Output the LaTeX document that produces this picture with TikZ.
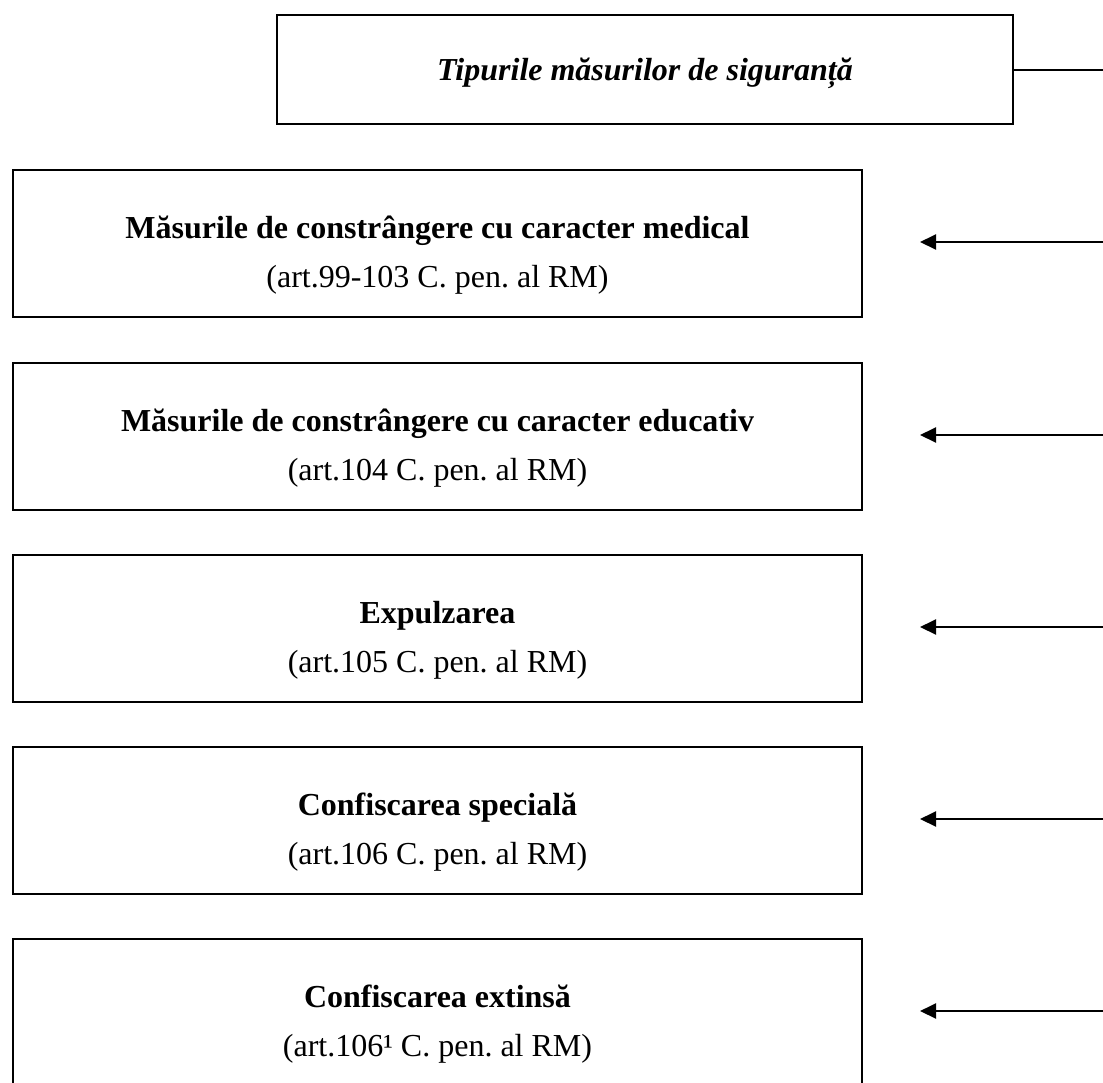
\documentclass[tikz,border=0pt]{standalone}
\usepackage{fontspec}
\setmainfont{Liberation Serif}
\usetikzlibrary{arrows.meta}
\frenchspacing
\begin{document}
\begin{tikzpicture}[x=1pt,y=-1pt,
  framebox/.style={draw=black, line width=2pt, rectangle, inner sep=0pt,
    minimum width=849pt, minimum height=147pt},
  headbox/.style={draw=black, line width=2pt, rectangle, inner sep=0pt,
    minimum width=736pt, minimum height=109pt},
  bigtext/.style={inner sep=0pt, anchor=base, font=\fontsize{32}{48}\selectfont\bfseries},
  smalltext/.style={inner sep=0pt, anchor=base, font=\fontsize{32}{48}\selectfont},
  pointer/.style={line width=2pt, -{Triangle[length=16pt,width=15pt]}}
]
\clip (0,0) rectangle (1103,1082);
\fill[white] (0,0) rectangle (1103,1082);

% heading
\node[headbox] (head) at (645,69.5) {};
\node[inner sep=0pt, anchor=base, font=\fontsize{32}{48}\selectfont\bfseries\itshape] (headtxt) at (645,80) {Tipurile măsurilor de siguranță};
\coordinate (headend) at (1104,69.5);
\draw[line width=2pt] (head.east) -- (headend);

% the five kinds of measures
\foreach \name/\top/\title/\ref in {
  med/170/{Măsurile de constrângere cu caracter medical}/{(art.99-103 C. pen. al RM)},
  edu/363/{Măsurile de constrângere cu caracter educativ}/{(art.104 C. pen. al RM)},
  exp/555/{Expulzarea}/{(art.105 C. pen. al RM)},
  csp/747/{Confiscarea specială}/{(art.106 C. pen. al RM)},
  cex/939/{Confiscarea extinsă}/{(art.106¹ C. pen. al RM)}}
{
  \node[framebox] (\name) at (437.5,\top+73.5) {};
  \node[bigtext] (\name-t) at (437.5,\top+68.5) {\title};
  \node[smalltext] (\name-r) at (437.5,\top+117) {\ref};
  \coordinate (\name-src) at (1104,\top+72);
  \coordinate (\name-tip) at (920,\top+72);
  \draw[pointer] (\name-src) -- (\name-tip);
}
\end{tikzpicture}
\end{document}
